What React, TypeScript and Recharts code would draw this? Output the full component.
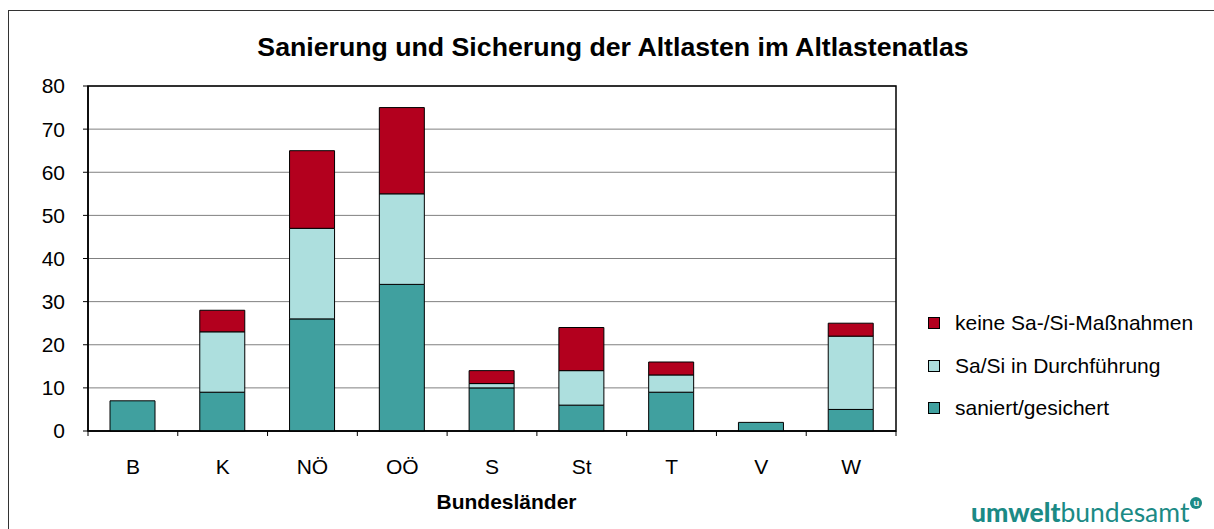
import { BarChart, Bar, XAxis, YAxis, CartesianGrid, ReferenceArea } from 'recharts';

const laender = ['B', 'K', 'NÖ', 'OÖ', 'S', 'St', 'T', 'V', 'W'];
const saniert = [7, 9, 26, 34, 10, 6, 9, 2, 5];
const inDurchfuehrung = [0, 14, 21, 21, 1, 8, 4, 0, 17];
const keineMassnahmen = [0, 5, 18, 20, 3, 10, 3, 0, 3];
const yTicks = [0, 10, 20, 30, 40, 50, 60, 70, 80];

const farben = {
  saniert: '#40A09F',
  durch: '#ADDFDE',
  keine: '#B3001E',
};

const legende = [
  { name: 'keine Sa-/Si-Maßnahmen', farbe: farben.keine },
  { name: 'Sa/Si in Durchführung', farbe: farben.durch },
  { name: 'saniert/gesichert', farbe: farben.saniert },
];

const data = laender.map((land, i) => ({
  land,
  saniert: saniert[i],
  durch: inDurchfuehrung[i],
  keine: keineMassnahmen[i],
}));

const font = '"Liberation Sans", Arial, sans-serif';

// Kategorie-Label plus Teilstriche an den Kategoriegrenzen (wie Excel)
function LandTick(props: any) {
  const { x, y, payload, index, width, visibleTicksCount } = props;
  const n = visibleTicksCount || laender.length;
  const bw = (width || 808) / n;
  return (
    <g>
      <line x1={x - bw / 2} x2={x - bw / 2} y1={y} y2={y + 5} stroke="#000" />
      {index === n - 1 && <line x1={x + bw / 2} x2={x + bw / 2} y1={y} y2={y + 5} stroke="#000" />}
      <text x={x} y={y + 43} textAnchor="middle" fill="#000" fontSize={21} fontFamily={font}>
        {payload.value}
      </text>
    </g>
  );
}

export default function App() {
  return (
    <div style={{ position: 'fixed', left: 0, top: 0, width: 1214, height: 529, background: '#fff', fontFamily: font, overflow: 'hidden' }}>
      <div style={{ position: 'absolute', left: 8, top: 10, width: 1220, height: 530, borderTop: '1px solid #333', borderLeft: '1px solid #333' }} />
      <div style={{ position: 'absolute', left: 0, top: 32, width: 1226, textAlign: 'center', fontSize: 26.7, fontWeight: 'bold', lineHeight: '30px' }}>
        Sanierung und Sicherung der Altlasten im Altlastenatlas
      </div>
      <div style={{ position: 'absolute', left: 0, top: 0 }}>
        <BarChart
          width={1214}
          height={529}
          data={data}
          margin={{ top: 86, right: 318, bottom: 58, left: 8 }}
        >
          <CartesianGrid vertical={false} stroke="#808080" strokeWidth={1} />
          <ReferenceArea y1={0} y2={80} fill="none" stroke="#000" strokeWidth={1.5} fillOpacity={0} />
          <XAxis
            dataKey="land"
            height={40}
            axisLine={{ stroke: '#000', strokeWidth: 1.5 }}
            tickLine={false}
            tickSize={0}
            tickMargin={0}
            tick={<LandTick />}
            interval={0}
          />
          <YAxis
            domain={[0, 80]}
            ticks={yTicks}
            width={80}
            tickSize={5}
            tickMargin={18}
            axisLine={{ stroke: '#000', strokeWidth: 1.5 }}
            tickLine={{ stroke: '#000' }}
            tick={{ fill: '#000', fontSize: 21, fontFamily: font }}
          />
          <Bar dataKey="saniert" stackId="a" barSize={45} fill={farben.saniert} stroke="#000" strokeWidth={1} isAnimationActive={false} />
          <Bar dataKey="durch" stackId="a" barSize={45} fill={farben.durch} stroke="#000" strokeWidth={1} isAnimationActive={false} />
          <Bar dataKey="keine" stackId="a" barSize={45} fill={farben.keine} stroke="#000" strokeWidth={1} isAnimationActive={false} />
        </BarChart>
      </div>
      <div style={{ position: 'absolute', left: 928, top: 302, fontSize: 21, color: '#000' }}>
        {legende.map((l) => (
          <div key={l.name} style={{ display: 'flex', alignItems: 'center', height: 42.5 }}>
            <span style={{ width: 10, height: 10, background: l.farbe, border: '1px solid #000', marginRight: 15 }} />
            {l.name}
          </div>
        ))}
      </div>
      <div style={{ position: 'absolute', left: 0, top: 490, width: 1013, textAlign: 'center', fontSize: 21, fontWeight: 'bold' }}>
        Bundesländer
      </div>
      <div style={{ position: 'absolute', left: 971, top: 497, color: '#1B8A85', fontFamily: 'Lato, "Open Sans", sans-serif', fontSize: 26.5, lineHeight: '30px', whiteSpace: 'nowrap' }}>
        <span style={{ fontWeight: 900 }}>umwelt</span>
        <span style={{ fontWeight: 400 }}>bundesamt</span>
        <span style={{ position: 'relative', top: -12, marginLeft: 1, display: 'inline-block', width: 12, height: 12, borderRadius: 6, background: '#1B8A85', color: '#fff', fontSize: 10, lineHeight: '11px', textAlign: 'center', fontWeight: 700, verticalAlign: 'middle' }}>u</span>
      </div>
    </div>
  );
}
